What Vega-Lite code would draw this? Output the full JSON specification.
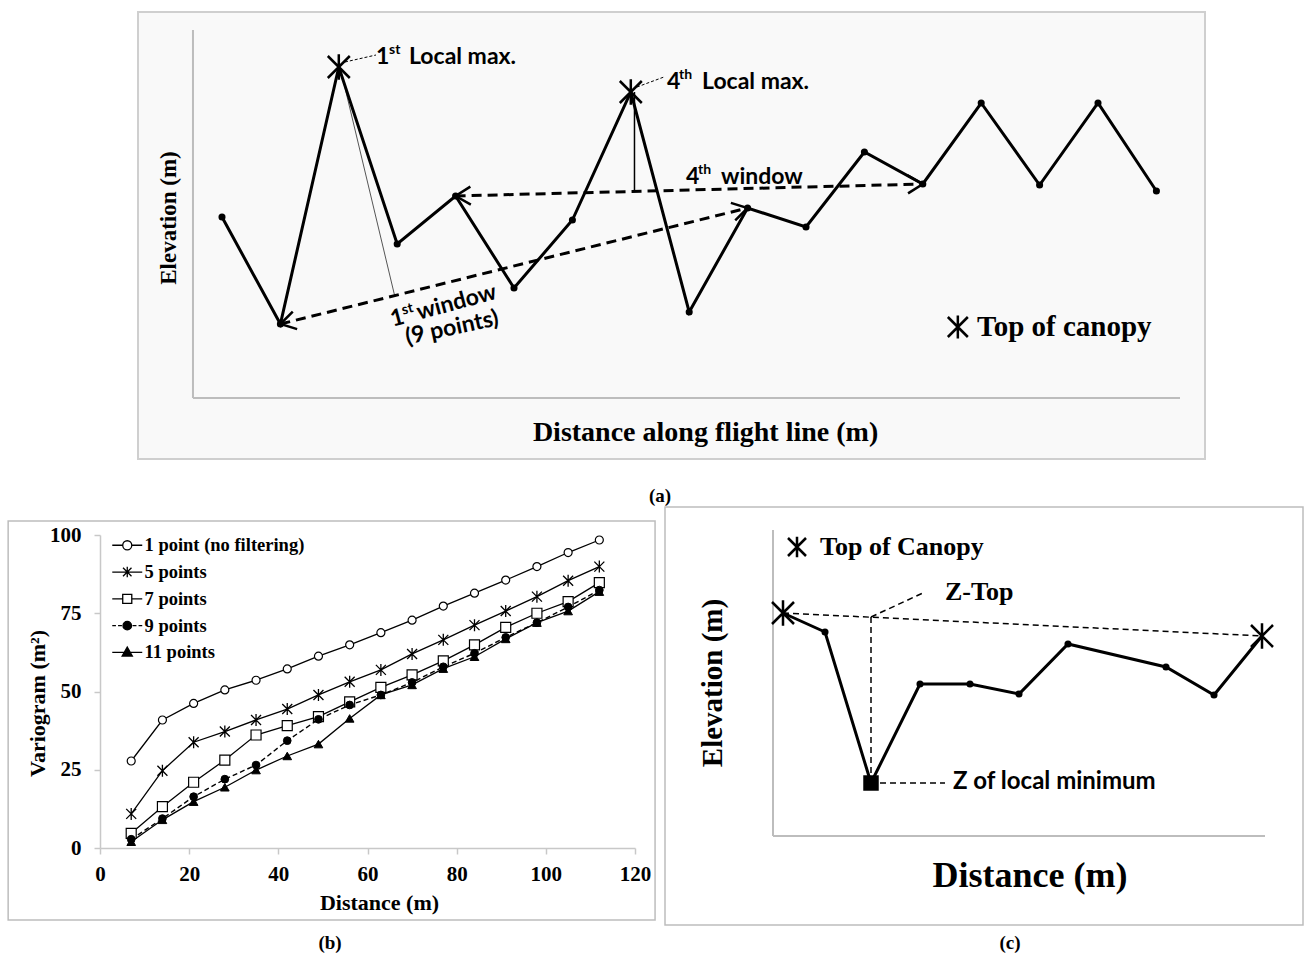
{
"$schema": "https://vega.github.io/schema/vega-lite/v6.json",
"padding": {"left": 7, "top": 11, "right": 0, "bottom": 0},
"autosize": {"type": "pad"},
"bounds": "flush",
"spacing": 135,
"config": {"view": {"stroke": null}, "font": "Liberation Serif"},
"datasets": {
"profileA": [
{"i":1,"elev":18.3,"role":"point"},{"i":2,"elev":7.6,"role":"point"},{"i":3,"elev":33.3,"role":"top"},{"i":4,"elev":15.6,"role":"point"},{"i":5,"elev":20.4,"role":"point"},{"i":6,"elev":11.2,"role":"point"},{"i":7,"elev":18.0,"role":"point"},{"i":8,"elev":30.8,"role":"top"},{"i":9,"elev":8.8,"role":"point"},{"i":10,"elev":19.2,"role":"point"},{"i":11,"elev":17.3,"role":"point"},{"i":12,"elev":24.8,"role":"point"},{"i":13,"elev":21.6,"role":"point"},{"i":14,"elev":29.7,"role":"point"},{"i":15,"elev":21.5,"role":"point"},{"i":16,"elev":29.7,"role":"point"},{"i":17,"elev":20.9,"role":"point"}
],
"windowsA": [
{"window":"1st window (9 points)","i":2,"elev":7.6,"i2":10,"elev2":19.2},
{"window":"4th window","i":5,"elev":20.4,"i2":13,"elev2":21.6}
],
"variogram": [
{"series":"1 point (no filtering)","distance":7,"variogram":27.8},{"series":"1 point (no filtering)","distance":14,"variogram":40.9},{"series":"1 point (no filtering)","distance":21,"variogram":46.2},{"series":"1 point (no filtering)","distance":28,"variogram":50.5},{"series":"1 point (no filtering)","distance":35,"variogram":53.6},{"series":"1 point (no filtering)","distance":42,"variogram":57.2},{"series":"1 point (no filtering)","distance":49,"variogram":61.3},{"series":"1 point (no filtering)","distance":56,"variogram":64.9},{"series":"1 point (no filtering)","distance":63,"variogram":68.8},{"series":"1 point (no filtering)","distance":70,"variogram":72.8},{"series":"1 point (no filtering)","distance":77,"variogram":77.3},{"series":"1 point (no filtering)","distance":84,"variogram":81.4},{"series":"1 point (no filtering)","distance":91,"variogram":85.6},{"series":"1 point (no filtering)","distance":98,"variogram":89.9},{"series":"1 point (no filtering)","distance":105,"variogram":94.4},{"series":"1 point (no filtering)","distance":112,"variogram":98.4},
{"series":"5 points","distance":7,"variogram":10.9},{"series":"5 points","distance":14,"variogram":24.7},{"series":"5 points","distance":21,"variogram":33.8},{"series":"5 points","distance":28,"variogram":37.2},{"series":"5 points","distance":35,"variogram":40.9},{"series":"5 points","distance":42,"variogram":44.4},{"series":"5 points","distance":49,"variogram":48.9},{"series":"5 points","distance":56,"variogram":53.1},{"series":"5 points","distance":63,"variogram":56.9},{"series":"5 points","distance":70,"variogram":62.0},{"series":"5 points","distance":77,"variogram":66.5},{"series":"5 points","distance":84,"variogram":71.2},{"series":"5 points","distance":91,"variogram":75.7},{"series":"5 points","distance":98,"variogram":80.3},{"series":"5 points","distance":105,"variogram":85.4},{"series":"5 points","distance":112,"variogram":89.9},
{"series":"7 points","distance":7,"variogram":4.7},{"series":"7 points","distance":14,"variogram":13.2},{"series":"7 points","distance":21,"variogram":21.0},{"series":"7 points","distance":28,"variogram":28.1},{"series":"7 points","distance":35,"variogram":36.1},{"series":"7 points","distance":42,"variogram":39.1},{"series":"7 points","distance":49,"variogram":42.0},{"series":"7 points","distance":56,"variogram":46.7},{"series":"7 points","distance":63,"variogram":51.3},{"series":"7 points","distance":70,"variogram":55.3},{"series":"7 points","distance":77,"variogram":59.8},{"series":"7 points","distance":84,"variogram":64.9},{"series":"7 points","distance":91,"variogram":70.5},{"series":"7 points","distance":98,"variogram":75.0},{"series":"7 points","distance":105,"variogram":78.7},{"series":"7 points","distance":112,"variogram":84.8},
{"series":"9 points","distance":7,"variogram":2.8},{"series":"9 points","distance":14,"variogram":9.4},{"series":"9 points","distance":21,"variogram":16.4},{"series":"9 points","distance":28,"variogram":22.0},{"series":"9 points","distance":35,"variogram":26.5},{"series":"9 points","distance":42,"variogram":34.3},{"series":"9 points","distance":49,"variogram":41.1},{"series":"9 points","distance":56,"variogram":45.7},{"series":"9 points","distance":63,"variogram":48.9},{"series":"9 points","distance":70,"variogram":52.9},{"series":"9 points","distance":77,"variogram":57.9},{"series":"9 points","distance":84,"variogram":62.2},{"series":"9 points","distance":91,"variogram":67.3},{"series":"9 points","distance":98,"variogram":72.0},{"series":"9 points","distance":105,"variogram":77.0},{"series":"9 points","distance":112,"variogram":82.4},
{"series":"11 points","distance":7,"variogram":2.0},{"series":"11 points","distance":14,"variogram":9.0},{"series":"11 points","distance":21,"variogram":14.8},{"series":"11 points","distance":28,"variogram":19.4},{"series":"11 points","distance":35,"variogram":24.9},{"series":"11 points","distance":42,"variogram":29.4},{"series":"11 points","distance":49,"variogram":33.2},{"series":"11 points","distance":56,"variogram":41.4},{"series":"11 points","distance":63,"variogram":48.9},{"series":"11 points","distance":70,"variogram":52.1},{"series":"11 points","distance":77,"variogram":57.3},{"series":"11 points","distance":84,"variogram":61.1},{"series":"11 points","distance":91,"variogram":66.8},{"series":"11 points","distance":98,"variogram":72.0},{"series":"11 points","distance":105,"variogram":75.7},{"series":"11 points","distance":112,"variogram":81.9}
],
"profileC": [
{"d":1.0,"elev":22.3,"role":"top"},{"d":5.2,"elev":20.4,"role":"point"},{"d":9.8,"elev":5.3,"role":"min"},{"d":14.7,"elev":15.2,"role":"point"},{"d":19.7,"elev":15.2,"role":"point"},{"d":24.6,"elev":14.2,"role":"point"},{"d":29.5,"elev":19.2,"role":"point"},{"d":39.3,"elev":16.9,"role":"point"},{"d":44.1,"elev":14.1,"role":"point"},{"d":48.9,"elev":20.0,"role":"top"}
]
},
"vconcat": [
{
"width": 1080, "height": 370,
"data": {"values": [{}]},
"layer": [
{"mark": {"type":"rect","fill":"#f9f9f9","stroke":"#cfcfcf","strokeWidth":2},
 "encoding": {"x":{"datum":-0.438,"type":"quantitative","scale":{"domain":[-1.089,17.404],"nice":false,"zero":false},"axis":null},"x2":{"datum":17.832},
 "y":{"datum":38.8,"type":"quantitative","scale":{"domain":[0,37],"nice":false,"zero":false},"axis":null},"y2":{"datum":-5.9}}},
{"mark": {"type":"rule","color":"#bdbdbd","strokeWidth":2},
 "encoding": {"x":{"datum":0.503,"type":"quantitative","axis":null},"y":{"datum":0.2,"type":"quantitative","axis":null},"y2":{"datum":37}}},
{"mark": {"type":"rule","color":"#bdbdbd","strokeWidth":2},
 "encoding": {"x":{"datum":0.503,"type":"quantitative","axis":null},"x2":{"datum":17.404},"y":{"datum":0.2,"type":"quantitative","axis":null}}},
{"mark": {"type":"rule","color":"#555555","strokeWidth":1},
 "encoding": {"x":{"datum":3.021,"type":"quantitative","axis":null},"x2":{"datum":3.962},"y":{"datum":33.3,"type":"quantitative","axis":null},"y2":{"datum":10.3}}},
{"mark": {"type":"rule","color":"black","strokeWidth":1.5},
 "encoding": {"x":{"datum":8.063,"type":"quantitative","axis":null},"y":{"datum":30.8,"type":"quantitative","axis":null},"y2":{"datum":21.0}}},
{"data": {"name":"windowsA"},
 "mark": {"type":"rule","color":"black","strokeWidth":3,"strokeDash":[10,6]},
 "encoding": {"x":{"field":"i","type":"quantitative","axis":null},"x2":{"field":"i2"},"y":{"field":"elev","type":"quantitative","axis":null},"y2":{"field":"elev2"}}},
{"data": {"name":"profileA"},
 "mark": {"type":"line","color":"black","strokeWidth":3},
 "encoding": {"x":{"field":"i","type":"quantitative","axis":null},"y":{"field":"elev","type":"quantitative","axis":null}}},
{"data": {"name":"profileA"},
 "transform": [{"filter":"datum.role == 'point'"}],
 "mark": {"type":"circle","color":"black","size":50,"opacity":1},
 "encoding": {"x":{"field":"i","type":"quantitative","axis":null},"y":{"field":"elev","type":"quantitative","axis":null}}},
{"data": {"name":"profileA"},
 "transform": [{"filter":"datum.role == 'top'"}],
 "mark": {"type":"point","shape":"M-1,-1L1,1M-1,1L1,-1M0,-1.15L0,1.15","size":484,"stroke":"black","strokeWidth":2.5,"filled":false,"opacity":1},
 "encoding": {"x":{"field":"i","type":"quantitative","axis":null},"y":{"field":"elev","type":"quantitative","axis":null}}},
{"mark": {"type":"point","shape":"M-1,-0.6L0,0L-1,0.6","size":900,"angle":165.94,"stroke":"black","strokeWidth":2.5,"filled":false,"opacity":1},
 "encoding": {"x":{"datum":2,"type":"quantitative","axis":null},"y":{"datum":7.6,"type":"quantitative","axis":null}}},
{"mark": {"type":"point","shape":"M-1,-0.6L0,0L-1,0.6","size":900,"angle":-14.06,"stroke":"black","strokeWidth":2.5,"filled":false,"opacity":1},
 "encoding": {"x":{"datum":10,"type":"quantitative","axis":null},"y":{"datum":19.2,"type":"quantitative","axis":null}}},
{"mark": {"type":"point","shape":"M-1,-0.6L0,0L-1,0.6","size":900,"angle":178.41,"stroke":"black","strokeWidth":2.5,"filled":false,"opacity":1},
 "encoding": {"x":{"datum":5,"type":"quantitative","axis":null},"y":{"datum":20.4,"type":"quantitative","axis":null}}},
{"mark": {"type":"point","shape":"M-1,-0.6L0,0L-1,0.6","size":900,"angle":-1.59,"stroke":"black","strokeWidth":2.5,"filled":false,"opacity":1},
 "encoding": {"x":{"datum":13,"type":"quantitative","axis":null},"y":{"datum":21.6,"type":"quantitative","axis":null}}},
{"mark": {"type":"rule","color":"black","strokeWidth":1,"strokeDash":[3,2]},
 "encoding": {"x":{"datum":3.106,"type":"quantitative","axis":null},"x2":{"datum":3.637},"y":{"datum":33.8,"type":"quantitative","axis":null},"y2":{"datum":34.5}}},
{"mark": {"type":"rule","color":"black","strokeWidth":1,"strokeDash":[3,2]},
 "encoding": {"x":{"datum":8.106,"type":"quantitative","axis":null},"x2":{"datum":8.568},"y":{"datum":31.3,"type":"quantitative","axis":null},"y2":{"datum":32.3}}},
{"mark": {"type":"text","text":"1","font":"Lato","fontWeight":"bold","fontSize":23,"align":"left","baseline":"middle"},
 "encoding": {"x":{"datum":3.637,"type":"quantitative","axis":null},"y":{"datum":34.3,"type":"quantitative","axis":null}}},
{"mark": {"type":"text","text":"st","font":"Lato","fontWeight":"bold","fontSize":14,"align":"left","baseline":"middle"},
 "encoding": {"x":{"datum":3.86,"type":"quantitative","axis":null},"y":{"datum":35.0,"type":"quantitative","axis":null}}},
{"mark": {"type":"text","text":"Local max.","font":"Lato","fontWeight":"bold","fontSize":23,"align":"left","baseline":"middle"},
 "encoding": {"x":{"datum":4.202,"type":"quantitative","axis":null},"y":{"datum":34.3,"type":"quantitative","axis":null}}},
{"mark": {"type":"text","text":"4","font":"Lato","fontWeight":"bold","fontSize":23,"align":"left","baseline":"middle"},
 "encoding": {"x":{"datum":8.62,"type":"quantitative","axis":null},"y":{"datum":31.8,"type":"quantitative","axis":null}}},
{"mark": {"type":"text","text":"th","font":"Lato","fontWeight":"bold","fontSize":14,"align":"left","baseline":"middle"},
 "encoding": {"x":{"datum":8.825,"type":"quantitative","axis":null},"y":{"datum":32.5,"type":"quantitative","axis":null}}},
{"mark": {"type":"text","text":"Local max.","font":"Lato","fontWeight":"bold","fontSize":23,"align":"left","baseline":"middle"},
 "encoding": {"x":{"datum":9.22,"type":"quantitative","axis":null},"y":{"datum":31.8,"type":"quantitative","axis":null}}},
{"mark": {"type":"text","text":"4","font":"Lato","fontWeight":"bold","fontSize":23,"align":"left","baseline":"middle"},
 "encoding": {"x":{"datum":8.945,"type":"quantitative","axis":null},"y":{"datum":22.3,"type":"quantitative","axis":null}}},
{"mark": {"type":"text","text":"th","font":"Lato","fontWeight":"bold","fontSize":14,"align":"left","baseline":"middle"},
 "encoding": {"x":{"datum":9.15,"type":"quantitative","axis":null},"y":{"datum":23.0,"type":"quantitative","axis":null}}},
{"mark": {"type":"text","text":"window","font":"Lato","fontWeight":"bold","fontSize":23,"align":"left","baseline":"middle"},
 "encoding": {"x":{"datum":9.545,"type":"quantitative","axis":null},"y":{"datum":22.3,"type":"quantitative","axis":null}}},
{"mark": {"type":"text","text":"1","font":"Lato","fontWeight":"bold","fontSize":23,"align":"left","baseline":"middle","angle":-15},
 "encoding": {"x":{"datum":3.894,"type":"quantitative","axis":null},"y":{"datum":8.0,"type":"quantitative","axis":null}}},
{"mark": {"type":"text","text":"st","font":"Lato","fontWeight":"bold","fontSize":14,"align":"left","baseline":"middle","angle":-15},
 "encoding": {"x":{"datum":4.082,"type":"quantitative","axis":null},"y":{"datum":8.92,"type":"quantitative","axis":null}}},
{"mark": {"type":"text","text":"window","font":"Lato","fontWeight":"bold","fontSize":23,"align":"left","baseline":"middle","angle":-15},
 "encoding": {"x":{"datum":4.341,"type":"quantitative","axis":null},"y":{"datum":8.7,"type":"quantitative","axis":null}}},
{"mark": {"type":"text","text":"(9 points)","font":"Lato","fontWeight":"bold","fontSize":23,"align":"center","baseline":"middle","angle":-12},
 "encoding": {"x":{"datum":4.938,"type":"quantitative","axis":null},"y":{"datum":7.2,"type":"quantitative","axis":null}}},
{"mark": {"type":"point","shape":"M-1,-1L1,1M-1,1L1,-1M0,-1.15L0,1.15","size":400,"stroke":"black","strokeWidth":2.5,"filled":false,"opacity":1},
 "encoding": {"x":{"datum":13.6,"type":"quantitative","axis":null},"y":{"datum":7.3,"type":"quantitative","axis":null}}},
{"mark": {"type":"text","text":"Top of canopy","font":"Liberation Serif","fontWeight":"bold","fontSize":29,"align":"left","baseline":"middle"},
 "encoding": {"x":{"datum":13.928,"type":"quantitative","axis":null},"y":{"datum":7.3,"type":"quantitative","axis":null}}},
{"mark": {"type":"text","text":"Elevation (m)","font":"Liberation Serif","fontWeight":"bold","fontSize":23,"align":"center","baseline":"middle","angle":270},
 "encoding": {"x":{"datum":0.09,"type":"quantitative","axis":null},"y":{"datum":18.2,"type":"quantitative","axis":null}}},
{"mark": {"type":"text","text":"Distance along flight line (m)","font":"Liberation Serif","fontWeight":"bold","fontSize":28,"align":"center","baseline":"middle"},
 "encoding": {"x":{"datum":9.28,"type":"quantitative","axis":null},"y":{"datum":-3.3,"type":"quantitative","axis":null}}},
{"mark": {"type":"text","text":"(a)","font":"Liberation Serif","fontWeight":"bold","fontSize":19,"align":"center","baseline":"middle"},
 "encoding": {"x":{"datum":8.5,"type":"quantitative","axis":null},"y":{"datum":-9.6,"type":"quantitative","axis":null}}}
]
},
{
"bounds": "flush",
"spacing": 138,
"hconcat": [
{
"width": 535, "height": 313,
"data": {"name": "variogram"},
"layer": [
{"data": {"values": [{}]},
 "mark": {"type":"rect","fill":"transparent","stroke":"#bdbdbd","strokeWidth":1.5},
 "encoding": {"x":{"datum":-20.6,"type":"quantitative"},"x2":{"datum":124.5},"y":{"datum":104.5,"type":"quantitative"},"y2":{"datum":-23.0}}},
{"transform": [{"filter":"datum.series != '9 points'"}],
 "mark": {"type":"line","color":"black","strokeWidth":1.3},
 "encoding": {
  "x":{"field":"distance","type":"quantitative","scale":{"domain":[0,120],"nice":false,"zero":false},
       "axis":{"title":"Distance (m)","values":[0,20,40,60,80,100,120],"grid":false,"zindex":1,"domainColor":"#c8c8c8","domainWidth":1.5,"tickColor":"#c8c8c8","tickWidth":1.5,"tickSize":6,"labelFont":"Liberation Serif","labelFontSize":21,"labelFontWeight":"bold","labelColor":"black","labelPadding":9,"labelFlush":false,"labelOverlap":false,"titleFont":"Liberation Serif","titleFontSize":22,"titleFontWeight":"bold","titleColor":"black","titlePadding":8,"titleX":279}},
  "y":{"field":"variogram","type":"quantitative","scale":{"domain":[0,100],"nice":false,"zero":false},
       "axis":{"title":"Variogram (m²)","values":[0,25,50,75,100],"grid":false,"zindex":1,"domainColor":"#c8c8c8","domainWidth":1.5,"tickColor":"#c8c8c8","tickWidth":1.5,"tickSize":6,"labelFont":"Liberation Serif","labelFontSize":21,"labelFontWeight":"bold","labelColor":"black","labelPadding":13,"labelFlush":false,"labelOverlap":false,"titleFont":"Liberation Serif","titleFontSize":22,"titleFontWeight":"bold","titleColor":"black","titlePadding":0,"titleY":168}},
  "detail":{"field":"series","type":"nominal"}
 }},
{"transform": [{"filter":"datum.series == '9 points'"}],
 "mark": {"type":"line","color":"black","strokeWidth":1.4,"strokeDash":[5,3]},
 "encoding": {"x":{"field":"distance","type":"quantitative"},"y":{"field":"variogram","type":"quantitative"}}},
{"transform": [{"filter":"datum.series == '1 point (no filtering)'"}],
 "mark": {"type":"point","shape":"circle","size":64,"fill":"white","stroke":"black","strokeWidth":1.2,"filled":true,"opacity":1},
 "encoding": {"x":{"field":"distance","type":"quantitative"},"y":{"field":"variogram","type":"quantitative"}}},
{"transform": [{"filter":"datum.series == '5 points'"}],
 "mark": {"type":"point","shape":"M-1,-1L1,1M-1,1L1,-1M0,-1.2L0,1.2","size":100,"stroke":"black","strokeWidth":1.3,"filled":false,"opacity":1},
 "encoding": {"x":{"field":"distance","type":"quantitative"},"y":{"field":"variogram","type":"quantitative"}}},
{"transform": [{"filter":"datum.series == '7 points'"}],
 "mark": {"type":"point","shape":"square","size":100,"fill":"white","stroke":"black","strokeWidth":1.2,"filled":true,"opacity":1},
 "encoding": {"x":{"field":"distance","type":"quantitative"},"y":{"field":"variogram","type":"quantitative"}}},
{"transform": [{"filter":"datum.series == '9 points'"}],
 "mark": {"type":"point","shape":"circle","size":60,"fill":"black","stroke":"black","strokeWidth":1,"filled":true,"opacity":1},
 "encoding": {"x":{"field":"distance","type":"quantitative"},"y":{"field":"variogram","type":"quantitative"}}},
{"transform": [{"filter":"datum.series == '11 points'"}],
 "mark": {"type":"point","shape":"triangle-up","size":75,"fill":"black","stroke":"black","strokeWidth":1,"filled":true,"opacity":1},
 "encoding": {"x":{"field":"distance","type":"quantitative"},"y":{"field":"variogram","type":"quantitative"}}},
{"transform": [{"filter":"false"}],
 "mark": {"type":"point","strokeWidth":1.3,"filled":true,"opacity":1},
 "encoding": {
  "x":{"field":"distance","type":"quantitative"},
  "y":{"field":"variogram","type":"quantitative"},
  "shape":{"field":"series","type":"nominal","scale":{"domain":["1 point (no filtering)","5 points","7 points","9 points","11 points"],"range":[
    "M-2.12,0H-0.64M0.64,0H2.12M-0.64,0A0.64,0.64 0 1,1 0.64,0A0.64,0.64 0 1,1 -0.64,0Z",
    "M-2.12,0H2.12M-0.6,-0.6L0.6,0.6M-0.6,0.6L0.6,-0.6M0,-0.75L0,0.75",
    "M-2.12,0H-0.64M0.64,0H2.12M-0.64,-0.64H0.64V0.64H-0.64Z",
    "M-2.12,0H-1.6M-1.3,0H-0.75M0.75,0H1.3M1.6,0H2.12M-0.6,0A0.6,0.6 0 1,1 0.6,0A0.6,0.6 0 1,1 -0.6,0Z",
    "M-2.12,0H2.12M0,-0.75L0.72,0.5H-0.72Z"]},
   "legend":{"title":null,"orient":"none","legendX":18,"legendY":506,"zindex":1,"symbolSize":200,"symbolStrokeWidth":1.3,"labelFont":"Liberation Serif","labelFontWeight":"bold","labelFontSize":18.5,"labelColor":"black","labelOffset":8,"rowPadding":7.8,"padding":0,"labelLimit":400}},
  "fill":{"field":"series","type":"nominal","scale":{"domain":["1 point (no filtering)","5 points","7 points","9 points","11 points"],"range":["white","transparent","white","black","black"]},
   "legend":{"title":null,"orient":"none","legendX":18,"legendY":506,"zindex":1,"symbolSize":200,"symbolStrokeWidth":1.3,"labelFont":"Liberation Serif","labelFontWeight":"bold","labelFontSize":18.5,"labelColor":"black","labelOffset":8,"rowPadding":7.8,"padding":0,"labelLimit":400}},
  "stroke":{"field":"series","type":"nominal","scale":{"domain":["1 point (no filtering)","5 points","7 points","9 points","11 points"],"range":["black","black","black","black","black"]},
   "legend":{"title":null,"orient":"none","legendX":18,"legendY":506,"zindex":1,"symbolSize":200,"symbolStrokeWidth":1.3,"labelFont":"Liberation Serif","labelFontWeight":"bold","labelFontSize":18.5,"labelColor":"black","labelOffset":8,"rowPadding":7.8,"padding":0,"labelLimit":400}}
 }},
{"data": {"values": [{}]},
 "mark": {"type":"text","text":"(b)","font":"Liberation Serif","fontWeight":"bold","fontSize":19,"align":"center","baseline":"middle"},
 "encoding": {"x":{"datum":51.6,"type":"quantitative"},"y":{"datum":-30.35,"type":"quantitative"}}}
]
},
{
"width": 500, "height": 313,
"data": {"values": [{}]},
"layer": [
{"mark": {"type":"rect","fill":"white","stroke":"#bdbdbd","strokeWidth":1.5},
 "encoding": {"x":{"datum":-10.8,"type":"quantitative","scale":{"domain":[0,50],"nice":false,"zero":false},"axis":null},"x2":{"datum":53.0},
 "y":{"datum":32.9,"type":"quantitative","scale":{"domain":[-1.2,30.1],"nice":false,"zero":false},"axis":null},"y2":{"datum":-8.9}}},
{"mark": {"type":"rule","color":"#bdbdbd","strokeWidth":2},
 "encoding": {"x":{"datum":0,"type":"quantitative","axis":null},"y":{"datum":0,"type":"quantitative","axis":null},"y2":{"datum":30.6}}},
{"mark": {"type":"rule","color":"#bdbdbd","strokeWidth":2},
 "encoding": {"x":{"datum":0,"type":"quantitative","axis":null},"x2":{"datum":49.2},"y":{"datum":0,"type":"quantitative","axis":null}}},
{"mark": {"type":"rule","color":"black","strokeWidth":1.5,"strokeDash":[6,4]},
 "encoding": {"x":{"datum":1.0,"type":"quantitative","axis":null},"x2":{"datum":48.9},"y":{"datum":22.3,"type":"quantitative","axis":null},"y2":{"datum":20.0}}},
{"mark": {"type":"rule","color":"black","strokeWidth":1.5,"strokeDash":[6,4]},
 "encoding": {"x":{"datum":9.8,"type":"quantitative","axis":null},"y":{"datum":21.9,"type":"quantitative","axis":null},"y2":{"datum":5.3}}},
{"mark": {"type":"rule","color":"black","strokeWidth":1.5,"strokeDash":[6,4]},
 "encoding": {"x":{"datum":9.8,"type":"quantitative","axis":null},"x2":{"datum":15.2},"y":{"datum":21.9,"type":"quantitative","axis":null},"y2":{"datum":24.4}}},
{"mark": {"type":"rule","color":"black","strokeWidth":1.5,"strokeDash":[6,4]},
 "encoding": {"x":{"datum":10.7,"type":"quantitative","axis":null},"x2":{"datum":17.2},"y":{"datum":5.3,"type":"quantitative","axis":null}}},
{"data": {"name":"profileC"},
 "mark": {"type":"line","color":"black","strokeWidth":3},
 "encoding": {"x":{"field":"d","type":"quantitative","axis":null},"y":{"field":"elev","type":"quantitative","axis":null}}},
{"data": {"name":"profileC"},
 "transform": [{"filter":"datum.role == 'point'"}],
 "mark": {"type":"circle","color":"black","size":50,"opacity":1},
 "encoding": {"x":{"field":"d","type":"quantitative","axis":null},"y":{"field":"elev","type":"quantitative","axis":null}}},
{"data": {"name":"profileC"},
 "transform": [{"filter":"datum.role == 'min'"}],
 "mark": {"type":"square","color":"black","size":240,"opacity":1},
 "encoding": {"x":{"field":"d","type":"quantitative","axis":null},"y":{"field":"elev","type":"quantitative","axis":null}}},
{"data": {"name":"profileC"},
 "transform": [{"filter":"datum.role == 'top'"}],
 "mark": {"type":"point","shape":"M-1,-1L1,1M-1,1L1,-1M0,-1.15L0,1.15","size":484,"stroke":"black","strokeWidth":2.5,"filled":false,"opacity":1},
 "encoding": {"x":{"field":"d","type":"quantitative","axis":null},"y":{"field":"elev","type":"quantitative","axis":null}}},
{"mark": {"type":"point","shape":"M-1,-1L1,1M-1,1L1,-1M0,-1.15L0,1.15","size":324,"stroke":"black","strokeWidth":2.5,"filled":false,"opacity":1},
 "encoding": {"x":{"datum":2.4,"type":"quantitative","axis":null},"y":{"datum":28.9,"type":"quantitative","axis":null}}},
{"mark": {"type":"text","text":"Top of Canopy","font":"Liberation Serif","fontWeight":"bold","fontSize":26,"align":"left","baseline":"middle"},
 "encoding": {"x":{"datum":4.7,"type":"quantitative","axis":null},"y":{"datum":28.9,"type":"quantitative","axis":null}}},
{"mark": {"type":"text","text":"Z-Top","font":"Liberation Serif","fontWeight":"bold","fontSize":26,"align":"left","baseline":"middle"},
 "encoding": {"x":{"datum":17.2,"type":"quantitative","axis":null},"y":{"datum":24.4,"type":"quantitative","axis":null}}},
{"mark": {"type":"text","text":"Z of local minimum","font":"Lato","fontWeight":"bold","fontSize":24,"align":"left","baseline":"middle"},
 "encoding": {"x":{"datum":18.0,"type":"quantitative","axis":null},"y":{"datum":5.4,"type":"quantitative","axis":null}}},
{"mark": {"type":"text","text":"Elevation (m)","font":"Liberation Serif","fontWeight":"bold","fontSize":29,"align":"center","baseline":"middle","angle":270},
 "encoding": {"x":{"datum":-6.0,"type":"quantitative","axis":null},"y":{"datum":15.3,"type":"quantitative","axis":null}}},
{"mark": {"type":"text","text":"Distance (m)","font":"Liberation Serif","fontWeight":"bold","fontSize":36,"align":"center","baseline":"middle"},
 "encoding": {"x":{"datum":25.7,"type":"quantitative","axis":null},"y":{"datum":-4.0,"type":"quantitative","axis":null}}},
{"mark": {"type":"text","text":"(c)","font":"Liberation Serif","fontWeight":"bold","fontSize":19,"align":"center","baseline":"middle"},
 "encoding": {"x":{"datum":23.7,"type":"quantitative","axis":null},"y":{"datum":-10.7,"type":"quantitative","axis":null}}}
]
}
]
}
]
}
